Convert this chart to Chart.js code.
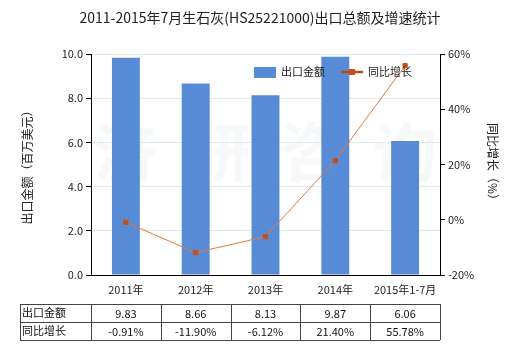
<!DOCTYPE html>
<html><head><meta charset="utf-8">
<script src="https://cdn.jsdelivr.net/npm/chart.js@4.4.0/dist/chart.umd.min.js"></script>
<style>html,body{margin:0;padding:0;background:#fff}#wrap{width:520px;height:350px;position:relative}</style>
</head><body><div id="wrap"><canvas id="c" width="520" height="350"></canvas></div>
<script>
const titleText = '2011-2015年7月生石灰(HS25221000)出口总额及增速统计';
const categories = ['2011年','2012年','2013年','2014年','2015年1-7月'];
const exportValues = [9.83, 8.66, 8.13, 9.87, 6.06];
const growthRates = [-0.91, -11.90, -6.12, 21.40, 55.78];
const seriesNames = ['出口金额','同比增长'];
const exportLabels = ['9.83','8.66','8.13','9.87','6.06'];
const growthLabels = ['-0.91%','-11.90%','-6.12%','21.40%','55.78%'];
const leftTitle = '出口金额（百万美元）';
const rightTitle = '同比增长（%）';
const watermark = '济研咨询';

const FONT = '"Noto Sans CJK SC", "DejaVu Sans", sans-serif';
const barColor = '#588BD5';
const lineColor = '#E8763A';
const pointColor = '#C4501C';

const extras = {
  id: 'extras',
  beforeDatasetsDraw(chart) {
    const ctx = chart.ctx, a = chart.chartArea;
    ctx.save();
    ctx.font = 'bold 64px ' + FONT;
    ctx.fillStyle = 'rgba(225,232,240,0.3)';
    ctx.textAlign = 'center'; ctx.textBaseline = 'middle';
    ctx.fillText(watermark.split('').join('  '), (a.left + a.right) / 2, 152);
    ctx.restore();
  },
  afterDraw(chart) {
    const ctx = chart.ctx, a = chart.chartArea, x = chart.scales.x;
    ctx.save();
    // title
    ctx.fillStyle = '#222';
    ctx.font = '14px ' + FONT;
    ctx.textAlign = 'center'; ctx.textBaseline = 'middle';
    ctx.fillText(titleText, 260, 18);
    // legend
    const ly = 72;
    ctx.fillStyle = barColor;
    ctx.fillRect(254, ly - 5, 22, 11);
    ctx.fillStyle = '#222';
    ctx.font = '11px ' + FONT;
    ctx.textAlign = 'left';
    ctx.fillText(seriesNames[0], 281, ly);
    ctx.strokeStyle = '#C04A10'; ctx.lineWidth = 2.5;
    ctx.beginPath(); ctx.moveTo(341, ly); ctx.lineTo(363, ly); ctx.stroke();
    ctx.fillStyle = pointColor; ctx.fillRect(349, ly - 3, 6, 6);
    ctx.fillStyle = '#222';
    ctx.fillText(seriesNames[1], 368, ly);
    // table
    const step = x.getPixelForValue(1) - x.getPixelForValue(0);
    const col0 = 20, top = 304, rh = 18;
    const cols = [col0];
    for (let i = 0; i <= categories.length; i++) cols.push(x.getPixelForValue(i) - step / 2);
    ctx.strokeStyle = '#444'; ctx.lineWidth = 1;
    const right = cols[cols.length - 1];
    for (let r = 0; r <= 2; r++) {
      const yy = Math.round(top + r * rh) + 0.5;
      ctx.beginPath(); ctx.moveTo(col0, yy); ctx.lineTo(right, yy); ctx.stroke();
    }
    cols.forEach(cx => { const xx = Math.round(cx) + 0.5; ctx.beginPath(); ctx.moveTo(xx, top); ctx.lineTo(xx, top + 2 * rh); ctx.stroke(); });
    ctx.font = '11px ' + FONT; ctx.fillStyle = '#111';
    ctx.textAlign = 'left';
    ctx.fillText(seriesNames[0], col0 + 2, top + rh / 2);
    ctx.fillText(seriesNames[1], col0 + 2, top + rh * 1.5);
    ctx.textAlign = 'center';
    for (let i = 0; i < categories.length; i++) {
      const cx = x.getPixelForValue(i);
      ctx.fillText(exportLabels[i], cx, top + rh / 2 + 1);
      ctx.fillText(growthLabels[i], cx, top + rh * 1.5 + 1);
    }
    ctx.restore();
  }
};

new Chart(document.getElementById('c'), {
  data: {
    labels: categories,
    datasets: [
      { type: 'line', label: seriesNames[1], data: growthRates, yAxisID: 'y1',
        borderColor: lineColor, borderWidth: 1, pointStyle: 'rect', pointRadius: 3,
        pointBackgroundColor: pointColor, pointBorderColor: pointColor, tension: 0, order: 0 },
      { type: 'bar', label: seriesNames[0], data: exportValues, yAxisID: 'y',
        backgroundColor: barColor, categoryPercentage: 0.8, barPercentage: 0.5, order: 1 }
    ]
  },
  plugins: [extras],
  options: {
    responsive: false, animation: false,
    layout: { padding: { top: 54, bottom: 50, left: 20, right: 20 } },
    plugins: { legend: { display: false }, title: { display: false }, tooltip: { enabled: false } },
    scales: {
      x: {
        grid: { display: false, drawTicks: true },
        border: { color: '#000' },
        ticks: { color: '#222', font: { family: FONT, size: 11 }, padding: 0, maxRotation: 0 },
        afterFit(s) { s.height = 25; }
      },
      y: {
        position: 'left', min: 0, max: 10,
        ticks: { stepSize: 2, color: '#222', font: { family: FONT, size: 11 }, padding: 3,
          callback: v => v.toFixed(1) },
        grid: { color: '#DCEDED', tickColor: '#000', tickLength: 5, drawOnChartArea: true },
        border: { color: '#000' },
        title: { display: true, text: leftTitle, color: '#222', font: { family: FONT, size: 12 }, padding: 0 },
        afterFit(s) { s.width = 71; }
      },
      y1: {
        position: 'right', min: -20, max: 60,
        ticks: { stepSize: 20, color: '#222', font: { family: FONT, size: 11 }, padding: 3,
          callback: v => v + '%' },
        grid: { drawOnChartArea: false, tickColor: '#000', tickLength: 5 },
        border: { color: '#000' },
        title: { display: true, text: rightTitle, color: '#222', font: { family: FONT, size: 12 }, padding: 0 },
        afterFit(s) { s.width = 60; }
      }
    }
  }
});
</script></body></html>
